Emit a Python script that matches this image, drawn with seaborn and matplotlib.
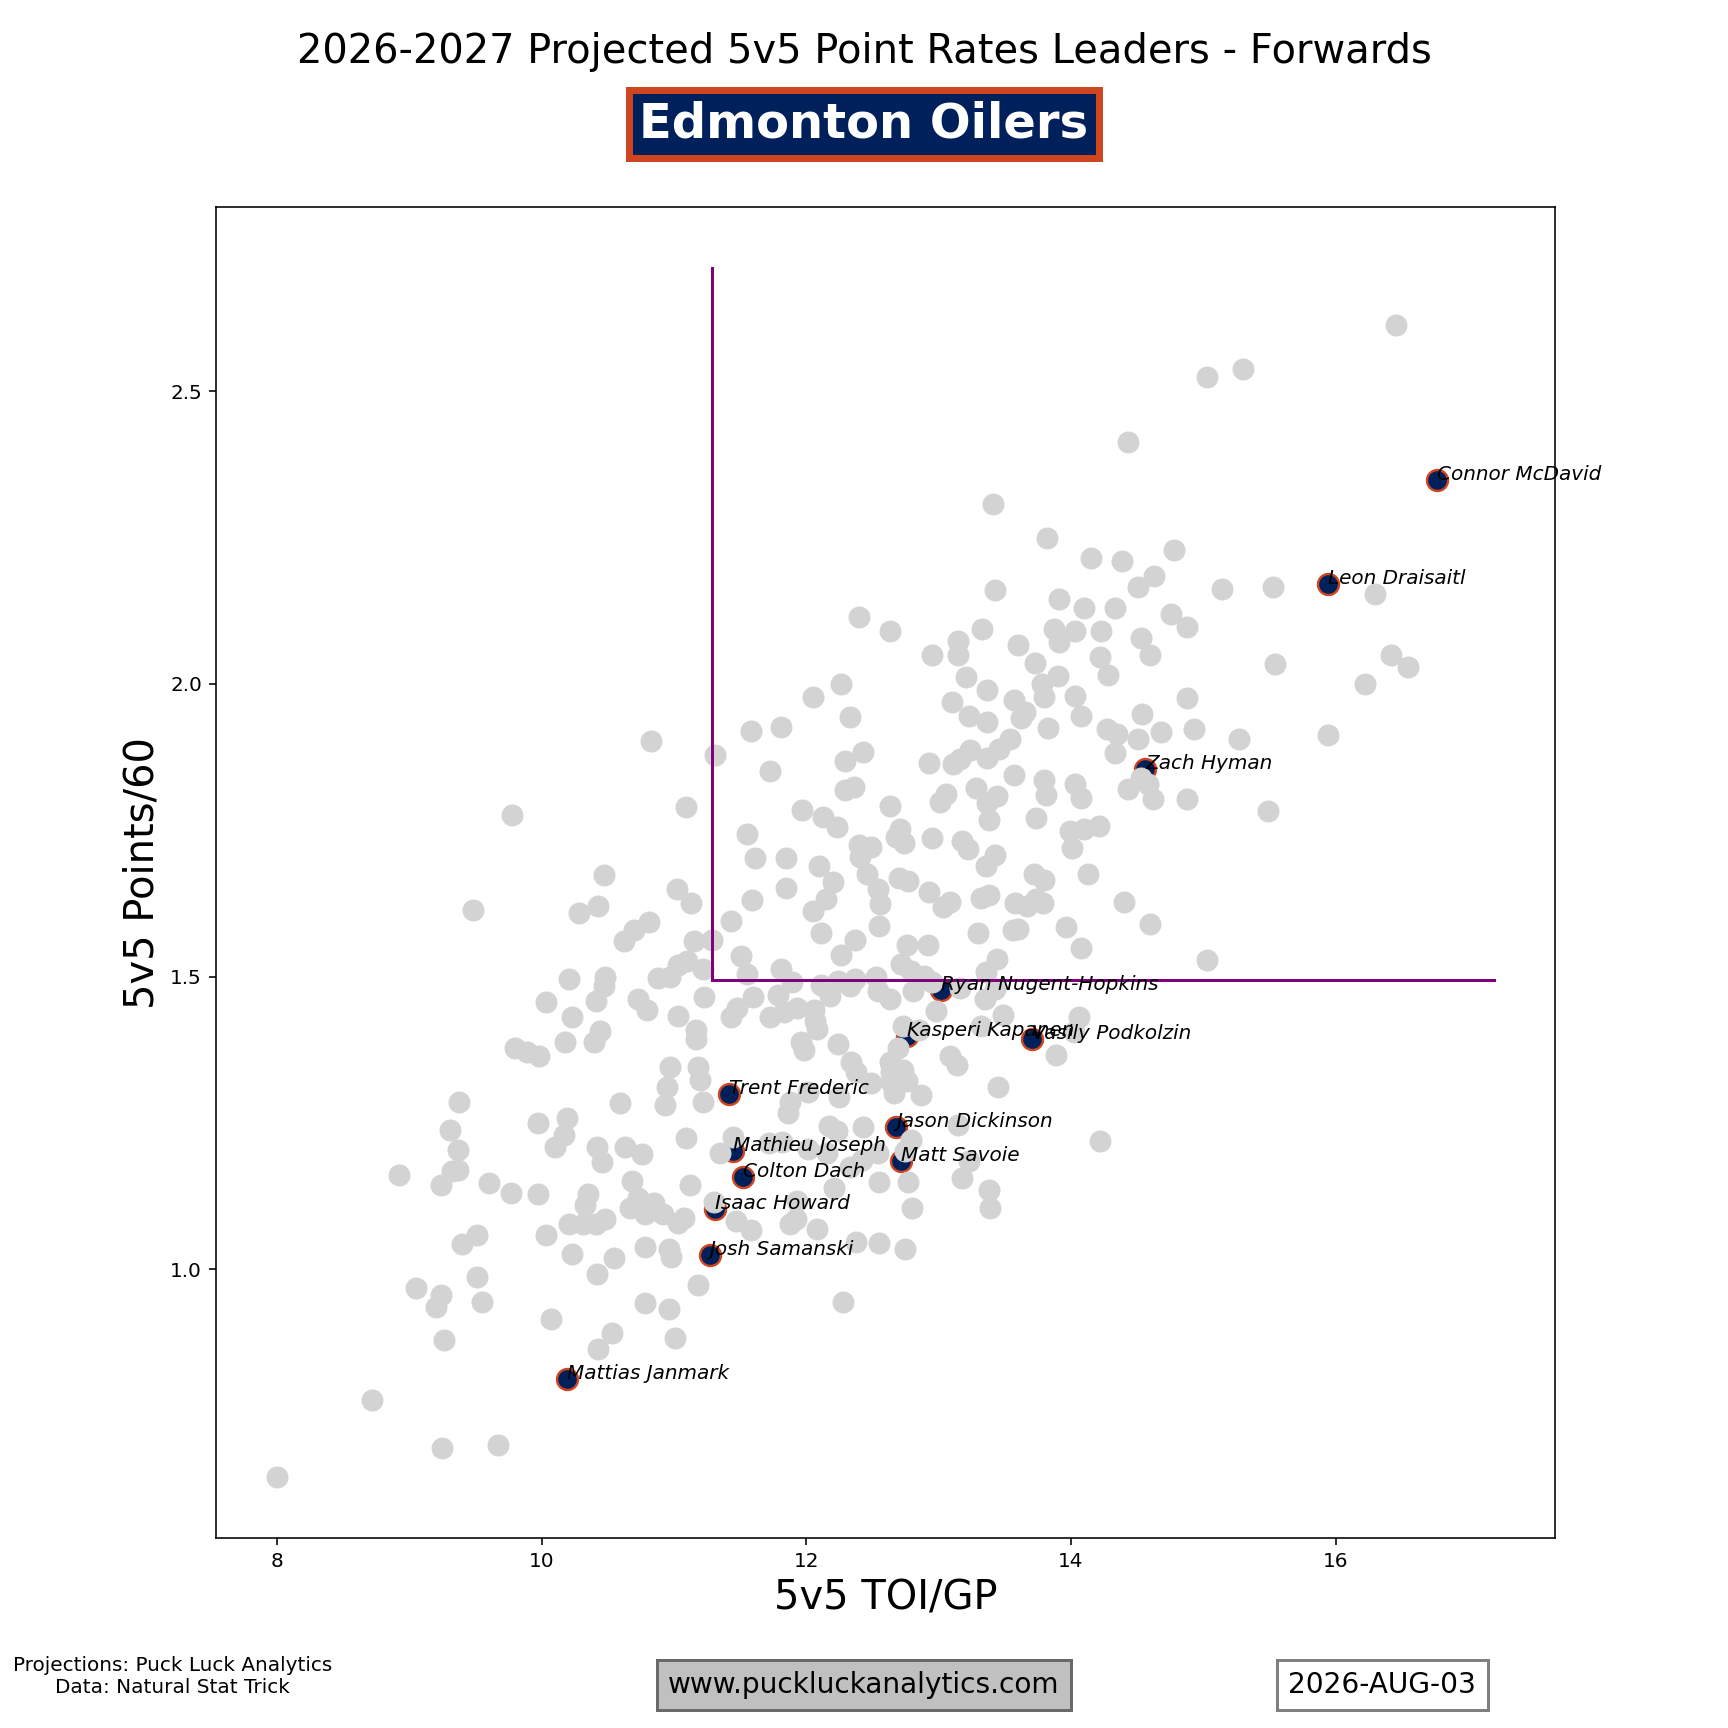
import matplotlib
matplotlib.use("Agg")
import matplotlib.pyplot as plt
import seaborn as sns
import pandas as pd

# League forwards (grey)
league_toi = [
16.46,15.30,15.03,14.43,13.41,13.82,14.78,14.15,14.39,14.63,14.51,15.53,15.14,16.30,13.43,13.91,14.33,14.10,12.40,14.76,
14.88,12.63,13.33,13.87,14.03,14.23,13.15,13.60,13.91,14.53,12.95,13.15,14.22,14.60,16.42,13.73,15.54,16.55,13.90,14.28,
13.21,12.26,16.22,13.37,13.78,14.03,12.05,14.88,13.10,13.57,13.80,13.65,12.33,13.23,14.54,13.37,13.62,14.08,13.83,14.27,
11.58,11.81,14.68,14.93,15.27,15.94,14.35,14.51,10.83,13.54,11.31,12.29,12.43,13.37,13.24,13.46,13.16,14.33,12.93,13.11,
11.73,13.57,14.53,13.80,14.03,13.28,12.29,12.36,14.43,14.58,13.06,13.44,13.81,14.08,14.62,14.88,13.01,13.37,11.09,12.63,
9.78,11.97,15.49,12.13,13.74,13.38,12.23,12.71,13.99,14.21,11.55,14.10,12.95,12.68,13.18,12.74,12.40,12.49,13.22,14.01,
13.43,11.61,11.85,12.41,12.10,13.36,14.13,10.47,12.46,12.77,12.20,12.70,13.80,13.72,12.54,11.02,11.85,12.93,13.38,13.32,
13.74,14.40,11.13,11.59,12.15,13.09,12.56,9.48,10.43,10.28,12.05,13.03,13.58,13.67,13.79,11.43,10.81,10.70,13.96,14.60,
12.11,12.55,13.56,13.30,13.60,10.62,11.15,11.29,12.37,12.92,12.76,14.08,12.26,11.51,15.03,13.44,12.72,11.03,11.10,12.79,
11.22,11.81,11.55,13.36,10.48,10.88,10.97,10.21,12.53,12.89,12.24,12.37,11.89,12.33,12.11,10.47,12.95,13.16,13.43,12.54,
12.81,11.79,12.18,11.23,11.60,10.73,12.63,13.35,10.03,10.41,10.80,11.48,11.93,11.83,11.03,12.06,12.98,11.43,10.23,11.73,
12.07,13.49,14.06,11.17,10.44,12.73,12.85,12.08,11.17,14.02,13.32,10.18,10.40,11.96,12.24,9.80,9.89,9.98,11.98,12.69,
13.89,13.09,13.14,12.63,12.34,12.38,10.97,11.18,12.64,12.73,11.20,12.76,12.64,10.95,13.45,12.49,12.87,12.01,12.66,11.22,
9.38,11.88,10.59,10.93,12.25,11.86,10.19,13.15,12.17,9.97,9.31,12.23,12.43,10.17,11.09,14.22,12.79,11.45,11.82,10.10,
10.42,10.63,11.72,9.37,12.01,10.76,12.16,12.54,11.35,10.46,12.75,12.33,12.42,13.23,9.37,9.32,8.92,9.60,10.68,9.24,
11.12,12.55,12.77,13.18,12.21,10.35,9.77,9.97,13.38,10.73,10.85,10.33,10.67,11.30,11.93,12.80,13.39,10.78,10.92,10.48,
11.03,11.08,10.21,10.31,10.41,11.47,11.88,11.92,12.08,9.51,10.03,11.58,9.40,10.78,12.55,12.38,12.75,10.96,10.98,10.23,
10.55,9.51,10.42,9.05,11.18,9.24,12.28,10.78,9.55,9.20,10.96,10.07,10.53,11.01,9.26,10.43,8.72,9.67,9.25,8.00]
league_pts = [
2.613,2.538,2.525,2.413,2.307,2.249,2.228,2.215,2.210,2.185,2.166,2.166,2.162,2.153,2.160,2.145,2.130,2.130,2.115,2.120,
2.097,2.090,2.093,2.093,2.090,2.090,2.074,2.066,2.072,2.078,2.050,2.050,2.046,2.050,2.050,2.036,2.034,2.029,2.013,2.016,
2.012,2.000,2.000,1.990,2.000,1.980,1.978,1.976,1.969,1.972,1.978,1.952,1.944,1.946,1.948,1.935,1.942,1.946,1.925,1.923,
1.920,1.927,1.918,1.923,1.906,1.912,1.914,1.906,1.903,1.906,1.878,1.869,1.884,1.874,1.887,1.889,1.872,1.882,1.865,1.863,
1.852,1.844,1.840,1.835,1.829,1.822,1.818,1.823,1.820,1.829,1.812,1.808,1.810,1.805,1.803,1.803,1.799,1.797,1.790,1.791,
1.776,1.784,1.782,1.773,1.771,1.767,1.756,1.752,1.748,1.757,1.744,1.752,1.737,1.739,1.731,1.729,1.724,1.722,1.718,1.720,
1.707,1.703,1.703,1.705,1.688,1.688,1.675,1.673,1.675,1.663,1.661,1.669,1.665,1.675,1.650,1.650,1.652,1.644,1.639,1.635,
1.633,1.627,1.626,1.631,1.633,1.627,1.624,1.614,1.620,1.609,1.612,1.618,1.626,1.620,1.626,1.595,1.594,1.580,1.584,1.590,
1.575,1.586,1.580,1.575,1.582,1.560,1.560,1.563,1.563,1.554,1.554,1.548,1.537,1.535,1.528,1.530,1.522,1.520,1.526,1.510,
1.513,1.513,1.504,1.507,1.500,1.498,1.500,1.496,1.500,1.501,1.492,1.496,1.490,1.484,1.486,1.484,1.490,1.480,1.479,1.475,
1.475,1.469,1.467,1.465,1.465,1.462,1.462,1.462,1.456,1.458,1.443,1.447,1.447,1.439,1.433,1.443,1.441,1.431,1.431,1.430,
1.424,1.435,1.430,1.409,1.407,1.416,1.409,1.411,1.394,1.405,1.415,1.388,1.388,1.388,1.384,1.377,1.371,1.364,1.375,1.377,
1.366,1.364,1.349,1.354,1.354,1.337,1.345,1.345,1.337,1.341,1.324,1.322,1.320,1.311,1.311,1.318,1.298,1.303,1.301,1.286,
1.286,1.285,1.283,1.281,1.294,1.266,1.258,1.247,1.245,1.249,1.237,1.236,1.243,1.230,1.224,1.219,1.220,1.226,1.217,1.209,
1.209,1.209,1.215,1.203,1.205,1.196,1.198,1.198,1.198,1.183,1.202,1.175,1.187,1.185,1.170,1.168,1.160,1.147,1.151,1.143,
1.143,1.149,1.149,1.156,1.139,1.128,1.130,1.128,1.136,1.122,1.113,1.109,1.104,1.115,1.117,1.105,1.104,1.094,1.094,1.085,
1.079,1.087,1.077,1.077,1.077,1.083,1.077,1.085,1.068,1.058,1.058,1.066,1.043,1.038,1.045,1.047,1.034,1.034,1.021,1.025,
1.019,0.987,0.991,0.968,0.972,0.955,0.943,0.942,0.943,0.936,0.932,0.915,0.891,0.883,0.879,0.864,0.776,0.699,0.695,0.644]

# Team forwards (highlighted)
team_names = ["Connor McDavid", "Leon Draisaitl", "Zach Hyman", "Ryan Nugent-Hopkins",
              "Kasperi Kapanen", "Vasily Podkolzin", "Trent Frederic", "Jason Dickinson",
              "Mathieu Joseph", "Matt Savoie", "Colton Dach", "Isaac Howard",
              "Josh Samanski", "Mattias Janmark"]
team_toi = [16.77, 15.94, 14.56, 13.02, 12.76, 13.71, 11.42, 12.68, 11.45, 12.72, 11.52, 11.31, 11.27, 10.19]
team_pts = [2.349, 2.170, 1.854, 1.477, 1.399, 1.394, 1.300, 1.243, 1.202, 1.185, 1.158, 1.102, 1.024, 0.813]

# Reference lines
ref_x = 11.29
ref_y = 1.494
line_x_end = 17.2
line_y_end = 2.711

title = "2026-2027 Projected 5v5 Point Rates Leaders - Forwards"
team = "Edmonton Oilers"
x_label = "5v5 TOI/GP"
y_label = "5v5 Points/60"
x_ticks = [8, 10, 12, 14, 16]
y_ticks = [1.0, 1.5, 2.0, 2.5]

NAVY = "#00205B"
ORANGE = "#CF4520"

league = pd.DataFrame({"toi": league_toi, "pts": league_pts})
teamdf = pd.DataFrame({"toi": team_toi, "pts": team_pts, "name": team_names})

fig, ax = plt.subplots(figsize=(12, 12), dpi=144)

sns.scatterplot(data=teamdf, x="toi", y="pts", ax=ax, s=110, color=NAVY,
                edgecolor=ORANGE, linewidth=1.2, zorder=2)
sns.scatterplot(data=league, x="toi", y="pts", ax=ax, s=110, color="lightgrey",
                edgecolor="lightgrey", linewidth=0.5, zorder=2)

ax.plot([ref_x, ref_x], [ref_y, line_y_end], color="purple", lw=1.5)
ax.plot([ref_x, line_x_end], [ref_y, ref_y], color="purple", lw=1.5)

for n, xx, yy in zip(team_names, team_toi, team_pts):
    ax.text(xx, yy, n, fontsize=10, style="italic", zorder=5)

ax.set_xticks(x_ticks)
ax.set_yticks(y_ticks)
ax.set_xlabel(x_label, fontsize=20)
ax.set_ylabel(y_label, fontsize=20)

fig.text(0.5, 0.97, title, ha="center", va="center", fontsize=20)
fig.text(0.5, 0.928, team, ha="center", va="center", fontsize=24, fontweight="bold",
         color="white",
         bbox=dict(boxstyle="square,pad=0.22", facecolor=NAVY, edgecolor=ORANGE, linewidth=3.5))

fig.text(0.1, 0.03, "Projections: Puck Luck Analytics\nData: Natural Stat Trick",
         ha="center", va="center", fontsize=10, multialignment="center")
fig.text(0.5, 0.025, "www.puckluckanalytics.com", ha="center", va="center", fontsize=14,
         bbox=dict(boxstyle="square,pad=0.4", facecolor="silver", edgecolor="dimgrey", linewidth=1.5))
fig.text(0.8, 0.025, "2026-AUG-03", ha="center", va="center", fontsize=14,
         bbox=dict(boxstyle="square,pad=0.4", facecolor="white", edgecolor="grey", linewidth=1.5))

fig.savefig("out.png", dpi=144)
